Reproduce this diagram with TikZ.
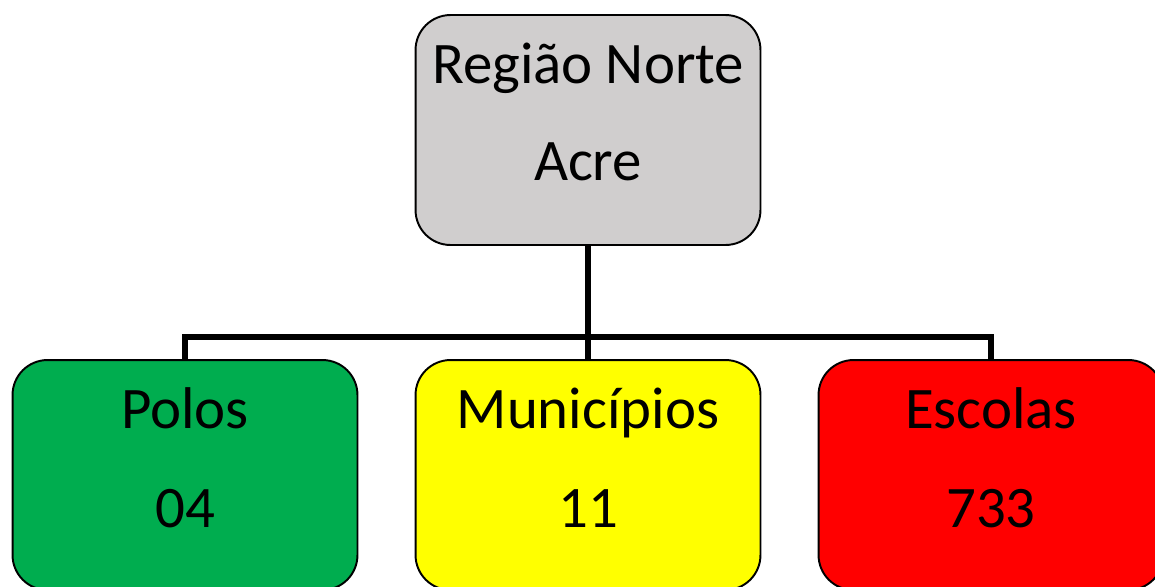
\documentclass[tikz,border=0pt]{standalone}
\usepackage{fontspec}
\setmainfont{Carlito}
\usepackage{xcolor}
\usetikzlibrary{positioning, calc}

\definecolor{cinza}{HTML}{D0CECE}
\definecolor{verde}{HTML}{00AD4F}
\definecolor{amarelo}{HTML}{FFFF00}
\definecolor{vermelho}{HTML}{FF0000}

\begin{document}
\begin{tikzpicture}[x=0.02cm, y=-0.02cm,
    caixa/.style={rectangle,draw=black,line width=1.1pt,minimum width=6.9cm,minimum height=4.6cm,rounded corners=0.7cm},
    rotulo/.style={anchor=base,font=\fontsize{33.5}{40}\selectfont,inner sep=0pt},
    ligacao/.style={draw=black,line width=3pt}]
    \clip (0,0) rectangle (1155,586);
    % Regiao Norte
    \node[caixa,fill=cinza] (norte) at (588,130) {};
    \node[rotulo] (norteA) at (588,83) {Região Norte};
    \node[rotulo] (norteB) at (588,180) {Acre};
    % Polos
    \node[caixa,fill=verde] (polos) at (185,475) {};
    \node[rotulo] (polosA) at (185,428) {Polos};
    \node[rotulo] (polosB) at (185,527) {04};
    % Municipios
    \node[caixa,fill=amarelo] (munic) at (588,475) {};
    \node[rotulo] (municA) at (588,428) {Municípios};
    \node[rotulo] (municB) at (588,527) {11};
    % Escolas
    \node[caixa,fill=vermelho] (escolas) at (991,475) {};
    \node[rotulo] (escolasA) at (991,428) {Escolas};
    \node[rotulo] (escolasB) at (991,527) {733};
    % ligacoes
    \coordinate (hub) at (588,337);
    \draw[ligacao] (norte.south) -- (hub);
    \draw[ligacao] (hub) -| (polos.north);
    \draw[ligacao] (hub) -- (munic.north);
    \draw[ligacao] (hub) -| (escolas.north);
\end{tikzpicture}
\end{document}
